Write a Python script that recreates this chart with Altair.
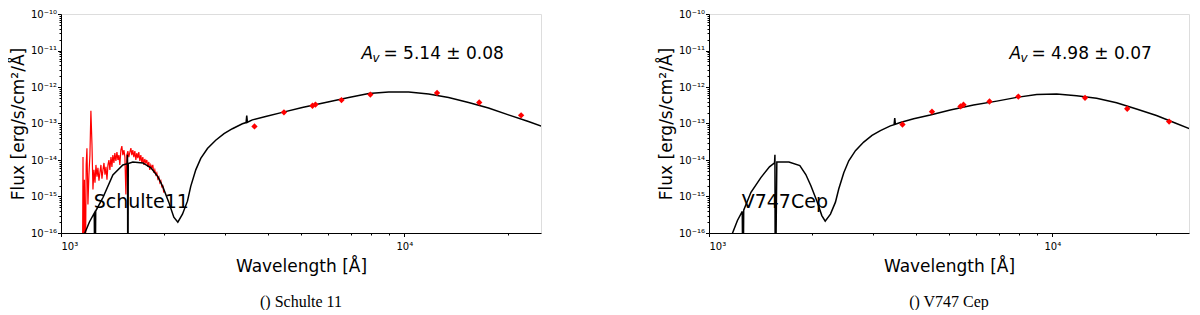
import altair as alt
import pandas as pd

# ---------------- data ----------------
# broad-band photometry (wavelength in Angstrom, flux in erg/s/cm2/A)
phot_wl = [3660, 4460, 5400, 5510, 6560, 7960, 12450, 16520, 21880]
s11_phot_flux = [8.3e-14, 2.02e-13, 3.06e-13, 3.3e-13, 4.37e-13, 6.2e-13, 6.9e-13, 3.77e-13, 1.67e-13]
v747_phot_flux = [9.4e-14, 2.11e-13, 2.94e-13, 3.27e-13, 4.0e-13, 5.47e-13, 5.05e-13, 2.54e-13, 1.13e-13]

# reddened model SEDs (black)
s11_model_wl = [1168, 1210, 1250, 1256, 1262, 1325, 1416, 1514, 1558, 1562, 1566, 1570, 1619,
                1731, 1827, 1914, 1979, 2061, 2131, 2189, 2258, 2335, 2387, 2469, 2553, 2670,
                2822, 2984, 3156, 3375, 3460, 3475, 3490, 3608, 3945, 4411, 5042, 5894, 6889,
                7876, 9004, 10292, 11767, 13453, 15380, 17580, 20100, 22980, 25020]
s11_model_flux = [9e-17, 2.0e-16, 3.5e-16, 1e-18, 4.0e-16, 9.4e-16, 3.9e-15, 7.3e-15, 7.9e-15,
                  1.4e-14, 1e-18, 8.0e-15, 8.8e-15, 8.3e-15, 6.1e-15, 3.5e-15, 1.86e-15,
                  6.9e-16, 2.7e-16, 1.98e-16, 3.27e-16, 7.46e-16, 1.9e-15, 5.37e-15, 1.11e-14,
                  2.07e-14, 3.47e-14, 5.27e-14, 7.2e-14, 9.8e-14, 1.06e-13, 1.65e-13, 1.08e-13,
                  1.26e-13, 1.55e-13, 2.02e-13, 2.76e-13, 3.77e-13, 5.14e-13, 6.59e-13, 7.33e-13,
                  7.33e-13, 6.47e-13, 5.14e-13, 3.77e-13, 2.65e-13, 1.72e-13, 1.13e-13, 8.45e-14]

v747_model_wl = [1166, 1210, 1250, 1256, 1262, 1325, 1416, 1500, 1552, 1556, 1560, 1576, 1709,
                 1839, 1914, 1979, 2061, 2131, 2180, 2258, 2335, 2387, 2469, 2553, 2670, 2822,
                 2984, 3156, 3375, 3460, 3475, 3490, 3608, 3945, 4411, 5042, 5894, 6889, 7876,
                 9004, 10292, 11767, 13453, 15380, 17580, 20100, 22980, 25350]
v747_model_flux = [9e-17, 2.2e-16, 3.9e-16, 1e-18, 4.2e-16, 1.3e-15, 3.3e-15, 6.5e-15, 8.3e-15,
                   1.4e-14, 1e-18, 8.8e-15, 8.8e-15, 7.0e-15, 4.0e-15, 2.0e-15, 7.5e-16, 3.0e-16,
                   2.1e-16, 3.3e-16, 7.0e-16, 1.6e-15, 4.5e-15, 9.5e-15, 1.8e-14, 3.1e-14,
                   4.7e-14, 6.4e-14, 8.6e-14, 9.3e-14, 1.4e-13, 9.5e-14, 1.07e-13, 1.35e-13,
                   1.7e-13, 2.35e-13, 3.2e-13, 4.1e-13, 5.2e-13, 6.2e-13, 6.4e-13, 5.8e-13,
                   4.9e-13, 3.7e-13, 2.5e-13, 1.65e-13, 1.0e-13, 6.9e-14]

# UV spectrum of Schulte 11 (red)
s11_uv_wl = [1155, 1159, 1163, 1170, 1178, 1184, 1190, 1198, 1206, 1214, 1222, 1231, 1239, 1247,
             1256, 1264, 1273, 1281, 1290, 1298, 1307, 1316, 1325, 1334, 1343, 1352, 1361, 1370,
             1379, 1388, 1398, 1407, 1416, 1426, 1435, 1445, 1455, 1465, 1474, 1484, 1494, 1504,
             1514, 1525, 1535, 1545, 1555, 1566, 1576, 1587, 1598, 1608, 1619, 1630, 1641, 1652,
             1663, 1674, 1685, 1697, 1708, 1720, 1731, 1743, 1754, 1766, 1778, 1790, 1802, 1814,
             1826, 1839, 1851, 1863, 1876, 1888, 1901, 1914, 1927, 1940, 1953, 1966, 1979, 1992]
s11_uv_flux = [1e-17, 1.205e-14, 1e-17, 2.88e-15, 1e-17, 7.33e-15, 2.11e-14, 6.08e-16, 3.94e-15,
               1.365e-14, 2.245e-13, 2.54e-14, 1.55e-15, 5.37e-15, 2.39e-15, 7.33e-15, 3.47e-15,
               6.08e-15, 2.71e-15, 4.46e-15, 7.33e-15, 3.06e-15, 5.37e-15, 8.3e-15, 3.94e-15,
               6.47e-15, 2.88e-15, 7.33e-15, 1.0e-14, 5.37e-15, 1.205e-14, 6.47e-15, 1.365e-14,
               8.3e-15, 1.545e-14, 9.4e-15, 1.645e-14, 1.0e-14, 1.365e-14, 7.33e-15, 1.86e-14,
               2.39e-14, 1.365e-14, 1.86e-14, 1.205e-14, 1.13e-15, 1.365e-14, 1.75e-14, 1.205e-14,
               1.645e-14, 2.11e-14, 1.365e-14, 1.86e-14, 1.205e-14, 1.75e-14, 1.0e-14, 1.545e-14,
               1.13e-14, 1.645e-14, 9.4e-15, 1.365e-14, 8.3e-15, 1.205e-14, 7.33e-15, 1.065e-14,
               8.3e-15, 1.0e-14, 6.47e-15, 8.83e-15, 5.37e-15, 7.33e-15, 6.08e-15, 7.33e-15,
               4.46e-15, 5.37e-15, 3.94e-15, 4.46e-15, 3.06e-15, 3.47e-15, 2.39e-15, 2.71e-15,
               1.86e-15, 1.98e-15, 1.28e-15]

# labels / annotations
x_domain = [1000, 25000]
y_domain = [1e-16, 1e-10]
x_major = [1000, 10000]
x_major_labels = ["10³", "10⁴"]
y_exponents = [-16, -15, -14, -13, -12, -11, -10]
y_major_labels = ["10⁻¹⁶", "10⁻¹⁵", "10⁻¹⁴", "10⁻¹³", "10⁻¹²", "10⁻¹¹", "10⁻¹⁰"]
star_names = ["Schulte11", "V747Cep"]
av_values = ["= 5.14 ± 0.08", "= 4.98 ± 0.07"]
captions = ["() Schulte 11", "() V747 Cep"]
name_pos = (1245, 6.9e-16)
av_pos = (7500, 7.8e-12)

# ---------------- axes ----------------
x_ticks = [m * 10 ** e for e in (3, 4) for m in range(1, 10) if m * 10 ** e <= 25000]
y_ticks = [m * 10.0 ** e for e in range(-16, -10) for m in range(1, 10)] + [1e-10]

x_label_expr = " : ".join(f"datum.value == {v} ? '{t}'" for v, t in zip(x_major, x_major_labels)) + " : ''"
y_label_expr = " : ".join(
    f"abs(log(datum.value)/LN10 - ({e})) < 0.01 ? '{t}'" for e, t in zip(y_exponents, y_major_labels)
) + " : ''"

x_major_test = " || ".join(f"datum.value == {v}" for v in x_major)
y_major_test = "abs(log(datum.value)/LN10 - round(log(datum.value)/LN10)) < 0.001"

FONT = "DejaVu Sans"
PLOT_W, PLOT_H = 480, 219


def x_enc():
    return alt.X(
        "wl:Q",
        scale=alt.Scale(type="log", domain=x_domain, nice=False),
        axis=alt.Axis(
            values=x_ticks, labelExpr=x_label_expr, labelOverlap=False, grid=False,
            tickSize={"condition": {"test": x_major_test, "value": 3.5}, "value": 2},
            tickColor="black", domainColor="black", labelColor="black",
            labelFont=FONT, labelFontSize=10, labelPadding=5,
            title="Wavelength [Å]", titleFont=FONT, titleFontSize=17,
            titleFontWeight="normal", titleColor="black", titlePadding=7,
        ),
    )


def y_enc():
    return alt.Y(
        "flux:Q",
        scale=alt.Scale(type="log", domain=y_domain, nice=False),
        axis=alt.Axis(
            values=y_ticks, labelExpr=y_label_expr, labelOverlap=False, grid=False,
            tickSize={"condition": {"test": y_major_test, "value": 3.5}, "value": 2},
            tickColor="black", domainColor="black", labelColor="black",
            labelFont=FONT, labelFontSize=10, labelPadding=1,
            title="Flux [erg/s/cm²/Å]", titleFont=FONT, titleFontSize=17,
            titleFontWeight="normal", titleColor="black", titlePadding=3,
        ),
    )


def panel(model_wl, model_flux, phot_flux, name, av, caption, uv_wl=None, uv_flux=None):
    layers = []
    if uv_wl is not None:
        uv = pd.DataFrame({"wl": uv_wl, "flux": uv_flux})
        layers.append(alt.Chart(uv).mark_line(color="#ff0000", strokeWidth=1.2, clip=True)
                      .encode(x=x_enc(), y=y_enc()))
    model = pd.DataFrame({"wl": model_wl, "flux": model_flux})
    layers.append(alt.Chart(model).mark_line(color="black", strokeWidth=1.5, clip=True)
                  .encode(x=x_enc(), y=y_enc()))
    phot = pd.DataFrame({"wl": phot_wl, "flux": phot_flux})
    layers.append(alt.Chart(phot).mark_point(shape="diamond", filled=True, color="#ff0000",
                                              size=40, opacity=1, clip=True)
                  .encode(x=x_enc(), y=y_enc()))
    nm = pd.DataFrame({"wl": [name_pos[0]], "flux": [name_pos[1]], "t": [name]})
    layers.append(alt.Chart(nm).mark_text(align="left", baseline="middle", font=FONT,
                                           fontSize=19, color="black")
                  .encode(x=x_enc(), y=y_enc(), text="t:N"))
    avd = pd.DataFrame({"wl": [av_pos[0]], "flux": [av_pos[1]], "a": ["A"], "v": ["v"], "t": [av]})
    layers.append(alt.Chart(avd).mark_text(align="left", baseline="middle", font=FONT,
                                            fontSize=17, fontStyle="italic", color="black")
                  .encode(x=x_enc(), y=y_enc(), text="a:N"))
    layers.append(alt.Chart(avd).mark_text(align="left", baseline="middle", font=FONT,
                                            fontSize=12, fontStyle="italic", color="black",
                                            dx=11, dy=4)
                  .encode(x=x_enc(), y=y_enc(), text="v:N"))
    layers.append(alt.Chart(avd).mark_text(align="left", baseline="middle", font=FONT,
                                            fontSize=17, color="black", dx=22)
                  .encode(x=x_enc(), y=y_enc(), text="t:N"))
    return alt.layer(*layers).properties(
        width=PLOT_W, height=PLOT_H,
        title=alt.TitleParams(text=caption, orient="bottom", anchor="middle",
                              font="Liberation Serif", fontSize=16, fontWeight="normal",
                              color="black", offset=19),
    )


left = panel(s11_model_wl, s11_model_flux, s11_phot_flux, star_names[0], av_values[0], captions[0],
             s11_uv_wl, s11_uv_flux)
right = panel(v747_model_wl, v747_model_flux, v747_phot_flux, star_names[1], av_values[1], captions[1])

chart = alt.hconcat(left, right, spacing=114).properties(
    padding={"left": 0, "top": 0, "right": 0, "bottom": 0}
).configure_view(stroke="black", strokeWidth=1).configure(background="white")

chart.save("out.html", embed_options={"renderer": "svg", "actions": False})
